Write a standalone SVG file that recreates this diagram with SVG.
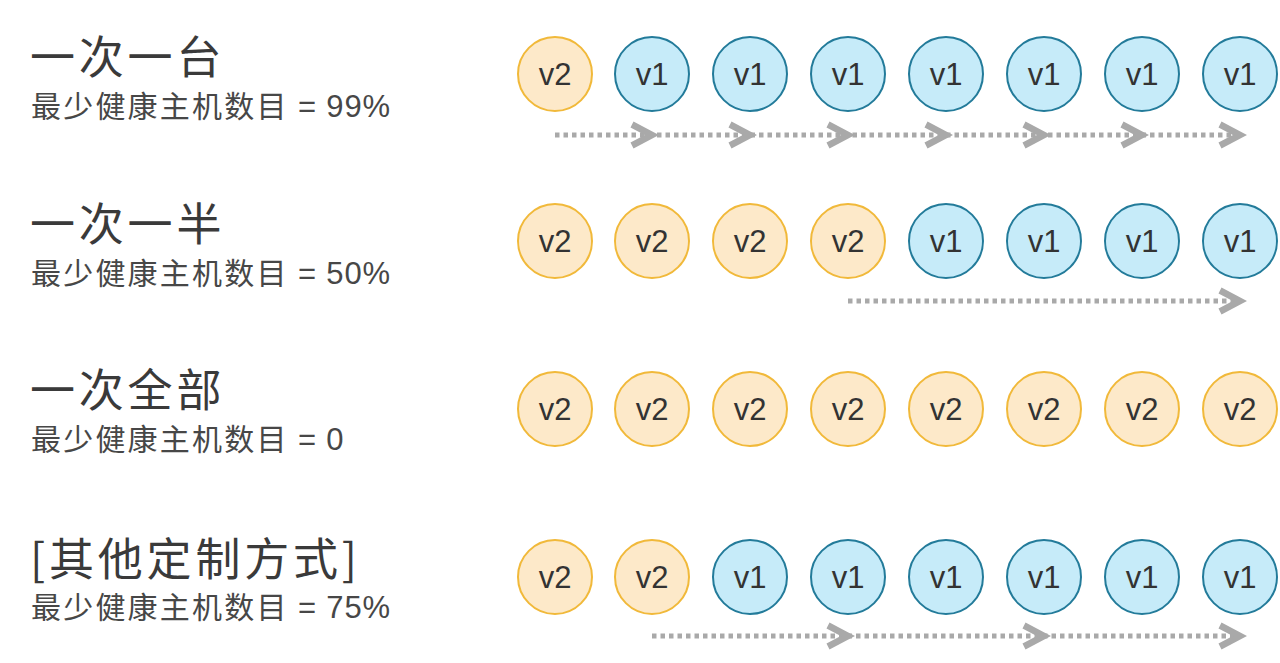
<svg xmlns="http://www.w3.org/2000/svg" width="1280" height="663" viewBox="0 0 1280 663">
<defs>
<style>
.title{font-family:"Noto Sans CJK SC","Liberation Sans",sans-serif;font-size:45px;letter-spacing:3.8px;fill:#3a3a3a}
.sub{font-family:"Liberation Sans","Noto Sans CJK SC",sans-serif;font-size:30px;letter-spacing:2.2px;fill:#474747}
.lat{letter-spacing:0.8px;font-size:31px}
.v2 circle{fill:#fde9c9;stroke:#f1b93a;stroke-width:2}
.v1 circle{fill:#c6ebf9;stroke:#237b9a;stroke-width:2}
.node text{font-family:"Liberation Sans",Arial,sans-serif;font-size:31px;fill:#333;text-anchor:middle}
.dots{stroke:#a9a9a9;stroke-width:5;stroke-dasharray:4.5 4;fill:none}
.chev{stroke:#a9a9a9;stroke-width:6.5;fill:none;stroke-linejoin:miter}
</style>
<path id="ch" d="M-23,-10.5 L-3,0 L-23,10.5"/>
</defs>
<rect width="1280" height="663" fill="#fff"/>

<g id="labels">
<text class="title" x="30" y="74">一次一台</text>
<text class="sub" x="31" y="117">最少健康主机数目<tspan class="lat"> = 99%</tspan></text>
<text class="title" x="30" y="241">一次一半</text>
<text class="sub" x="31" y="284">最少健康主机数目<tspan class="lat"> = 50%</tspan></text>
<text class="title" x="30" y="407">一次全部</text>
<text class="sub" x="31" y="450">最少健康主机数目<tspan class="lat"> = 0</tspan></text>
<text class="title" x="30" y="576">[其他定制方式]</text>
<text class="sub" x="31" y="618">最少健康主机数目<tspan class="lat"> = 75%</tspan></text>
</g>

<g id="row1">
<g id="r1c1" class="node v2" transform="translate(555,74)"><circle r="37"/><text y="11">v2</text></g>
<g id="r1c2" class="node v1" transform="translate(652,74)"><circle r="37"/><text y="11">v1</text></g>
<g id="r1c3" class="node v1" transform="translate(750,74)"><circle r="37"/><text y="11">v1</text></g>
<g id="r1c4" class="node v1" transform="translate(848,74)"><circle r="37"/><text y="11">v1</text></g>
<g id="r1c5" class="node v1" transform="translate(946,74)"><circle r="37"/><text y="11">v1</text></g>
<g id="r1c6" class="node v1" transform="translate(1044,74)"><circle r="37"/><text y="11">v1</text></g>
<g id="r1c7" class="node v1" transform="translate(1142,74)"><circle r="37"/><text y="11">v1</text></g>
<g id="r1c8" class="node v1" transform="translate(1240,74)"><circle r="37"/><text y="11">v1</text></g>
</g>

<g id="row2">
<g id="r2c1" class="node v2" transform="translate(555,241)"><circle r="37"/><text y="11">v2</text></g>
<g id="r2c2" class="node v2" transform="translate(652,241)"><circle r="37"/><text y="11">v2</text></g>
<g id="r2c3" class="node v2" transform="translate(750,241)"><circle r="37"/><text y="11">v2</text></g>
<g id="r2c4" class="node v2" transform="translate(848,241)"><circle r="37"/><text y="11">v2</text></g>
<g id="r2c5" class="node v1" transform="translate(946,241)"><circle r="37"/><text y="11">v1</text></g>
<g id="r2c6" class="node v1" transform="translate(1044,241)"><circle r="37"/><text y="11">v1</text></g>
<g id="r2c7" class="node v1" transform="translate(1142,241)"><circle r="37"/><text y="11">v1</text></g>
<g id="r2c8" class="node v1" transform="translate(1240,241)"><circle r="37"/><text y="11">v1</text></g>
</g>

<g id="row3">
<g id="r3c1" class="node v2" transform="translate(555,409)"><circle r="37"/><text y="11">v2</text></g>
<g id="r3c2" class="node v2" transform="translate(652,409)"><circle r="37"/><text y="11">v2</text></g>
<g id="r3c3" class="node v2" transform="translate(750,409)"><circle r="37"/><text y="11">v2</text></g>
<g id="r3c4" class="node v2" transform="translate(848,409)"><circle r="37"/><text y="11">v2</text></g>
<g id="r3c5" class="node v2" transform="translate(946,409)"><circle r="37"/><text y="11">v2</text></g>
<g id="r3c6" class="node v2" transform="translate(1044,409)"><circle r="37"/><text y="11">v2</text></g>
<g id="r3c7" class="node v2" transform="translate(1142,409)"><circle r="37"/><text y="11">v2</text></g>
<g id="r3c8" class="node v2" transform="translate(1240,409)"><circle r="37"/><text y="11">v2</text></g>
</g>

<g id="row4">
<g id="r4c1" class="node v2" transform="translate(555,577)"><circle r="37"/><text y="11">v2</text></g>
<g id="r4c2" class="node v2" transform="translate(652,577)"><circle r="37"/><text y="11">v2</text></g>
<g id="r4c3" class="node v1" transform="translate(750,577)"><circle r="37"/><text y="11">v1</text></g>
<g id="r4c4" class="node v1" transform="translate(848,577)"><circle r="37"/><text y="11">v1</text></g>
<g id="r4c5" class="node v1" transform="translate(946,577)"><circle r="37"/><text y="11">v1</text></g>
<g id="r4c6" class="node v1" transform="translate(1044,577)"><circle r="37"/><text y="11">v1</text></g>
<g id="r4c7" class="node v1" transform="translate(1142,577)"><circle r="37"/><text y="11">v1</text></g>
<g id="r4c8" class="node v1" transform="translate(1240,577)"><circle r="37"/><text y="11">v1</text></g>
</g>

<g id="connectors">
<line class="dots" x1="555" y1="135" x2="1236" y2="135"/>
<g class="chev">
<use href="#ch" x="655" y="135"/>
<use href="#ch" x="753" y="135"/>
<use href="#ch" x="851" y="135"/>
<use href="#ch" x="949" y="135"/>
<use href="#ch" x="1047" y="135"/>
<use href="#ch" x="1145" y="135"/>
<use href="#ch" x="1243" y="135"/>
</g>
<line class="dots" x1="848" y1="301" x2="1236" y2="301"/>
<g class="chev">
<use href="#ch" x="1243" y="301"/>
</g>
<line class="dots" x1="652" y1="636" x2="1236" y2="636"/>
<g class="chev">
<use href="#ch" x="851" y="636"/>
<use href="#ch" x="1047" y="636"/>
<use href="#ch" x="1243" y="636"/>
</g>
</g>
</svg>
